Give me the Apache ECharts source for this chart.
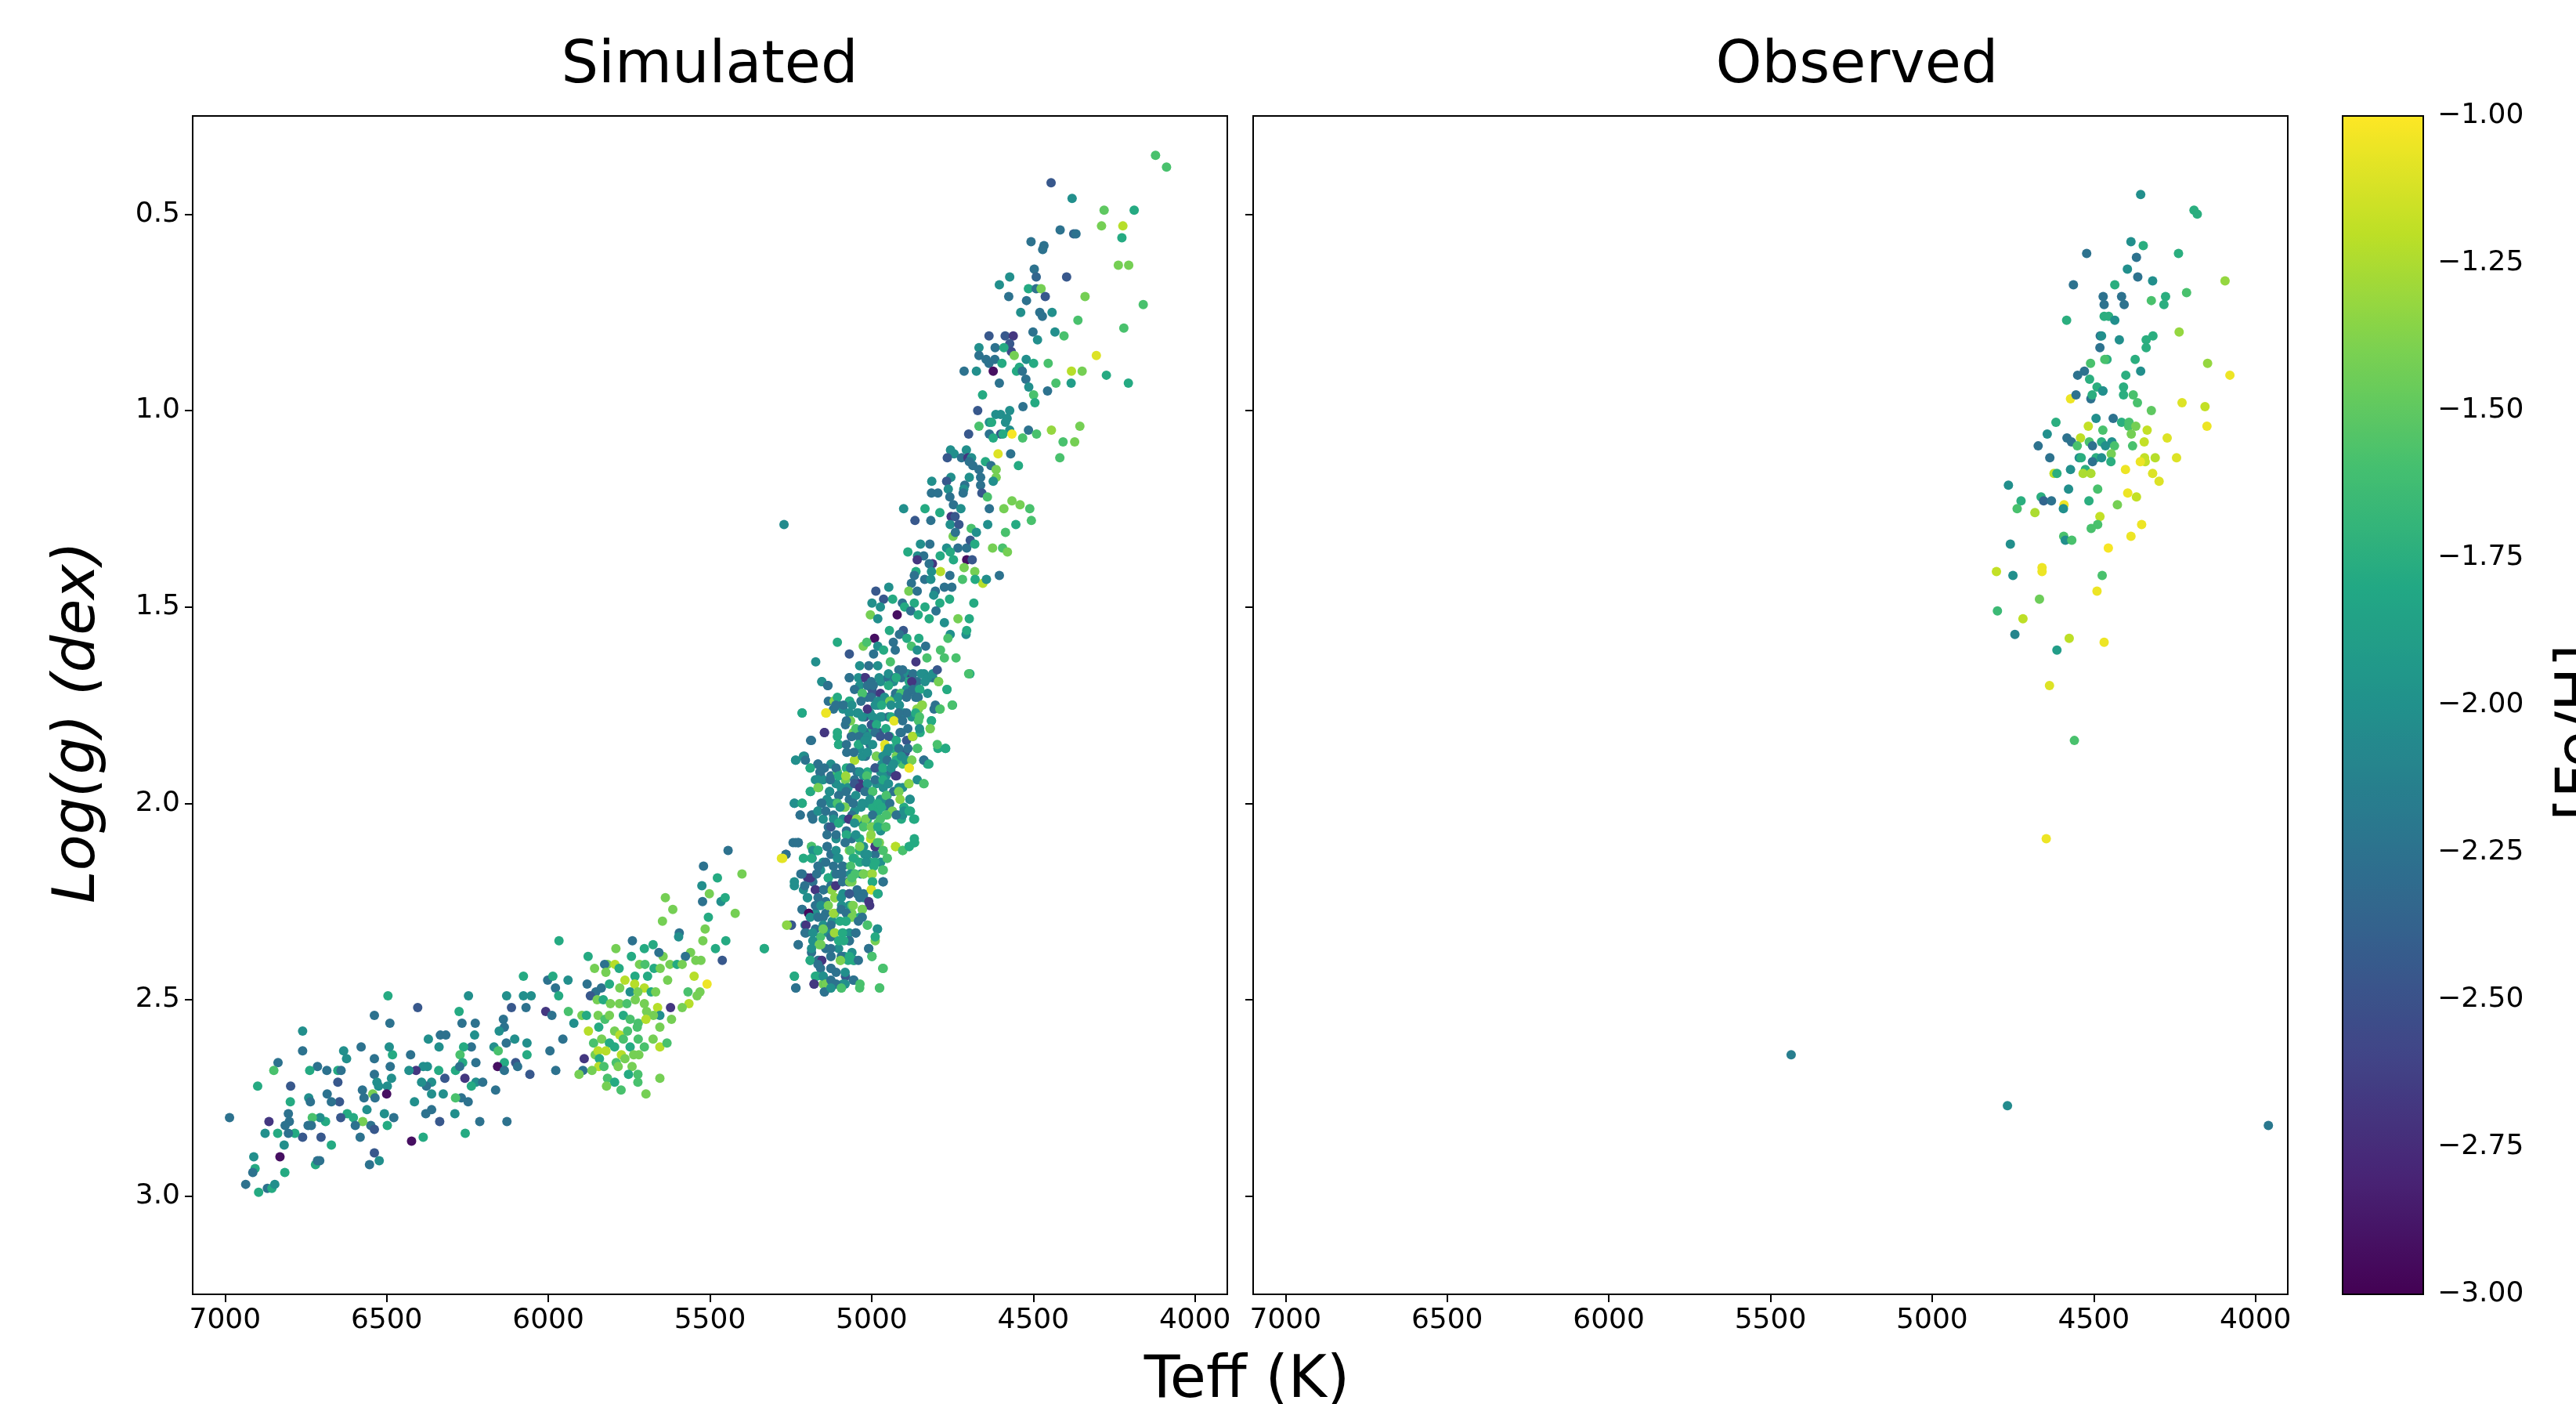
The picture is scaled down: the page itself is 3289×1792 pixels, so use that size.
<!DOCTYPE html>
<html>
<head>
<meta charset="utf-8">
<script src="https://cdn.jsdelivr.net/npm/echarts@6/dist/echarts.min.js"></script>
<style>
  html, body { margin: 0; padding: 0; background: #fff; }
  #chart { width: 3289px; height: 1792px; }
</style>
</head>
<body>
<div id="chart"></div>
<script>
// [Teff, logg, [Fe/H]]
var simUpperRGB = [
  [4122,0.35,-1.58],[4088,0.38,-1.58],[4445,0.42,-2.45],[4380,0.46,-2.02],[4281,0.49,-1.5],[4188,0.49,-1.78],
  [4289,0.53,-1.42],[4223,0.53,-1.22],[4226,0.56,-1.78],[4417,0.54,-2.25],[4375,0.55,-2.35],[4368,0.55,-2.25],
  [4507,0.57,-2.25],[4467,0.58,-2.25],[4471,0.59,-2.25],[4237,0.63,-1.42],[4205,0.63,-1.42],[4497,0.64,-2.25],
  [4491,0.66,-2.35],[4397,0.66,-2.45],[4573,0.66,-2.02],[4605,0.68,-2.02],[4515,0.69,-1.78],[4491,0.69,-2.25],
  [4476,0.69,-1.42],[4463,0.71,-2.45],[4340,0.71,-1.42],[4576,0.71,-2.25],[4521,0.72,-2.25],[4160,0.73,-1.58],
  [4539,0.75,-2.02],[4480,0.75,-2.25],[4472,0.76,-2.25],[4442,0.75,-2.02],[4362,0.77,-1.58],[4433,0.80,-2.02],
  [4405,0.81,-1.58],[4501,0.80,-2.25],[4487,0.82,-2.02],[4220,0.79,-1.58],[4637,0.81,-2.45],[4587,0.81,-2.45],
  [4562,0.81,-2.68],[4573,0.83,-2.45],[4568,0.85,-2.55],[4668,0.84,-2.02],[4618,0.84,-2.25],[4591,0.84,-1.78],
  [4559,0.86,-1.42],[4668,0.86,-2.25],[4646,0.87,-2.25],[4619,0.87,-2.25],[4637,0.88,-2.25],[4597,0.88,-1.78],
  [4522,0.87,-2.02],[4543,0.89,-1.78],[4499,0.88,-1.78],[4454,0.88,-1.58],[4714,0.90,-2.25],[4676,0.90,-2.02],
  [4624,0.90,-2.92],[4552,0.90,-1.78],[4534,0.90,-2.25],[4523,0.92,-2.25],[4514,0.94,-2.02],[4382,0.90,-1.22],
  [4349,0.90,-1.42],[4305,0.86,-1.1],[4274,0.91,-1.78],[4206,0.93,-1.78],[4383,0.93,-1.9],[4605,0.93,-2.25],
  [4499,0.96,-1.58],[4495,0.98,-1.78],[4456,0.95,-2.25],[4430,0.93,-1.58],[4657,0.96,-1.78],[4672,1.00,-2.45],
  [4532,0.99,-2.25],[4616,1.01,-2.02],[4601,1.01,-2.02],[4573,1.00,-2.02],[4581,1.02,-2.02],[4586,1.03,-2.02],
  [4636,1.03,-2.02],[4629,1.03,-1.78],[4668,1.04,-1.58],[4636,1.06,-2.25],[4601,1.06,-2.45],[4573,1.05,-2.02],
  [4624,1.07,-1.78],[4594,1.06,-1.78],[4566,1.06,-1.02],[4515,1.05,-2.25],[4533,1.07,-1.58],[4490,1.06,-1.58],
  [4444,1.05,-1.32],[4408,1.08,-1.58],[4372,1.08,-1.42],[4356,1.04,-1.42],[4700,1.06,-2.45],[4609,1.11,-1.1],
  [4570,1.11,-2.25],[4546,1.14,-1.78],[4418,1.12,-1.58],[4756,1.10,-2.02],[4745,1.11,-2.02],[4707,1.10,-2.02],
  [4766,1.12,-2.45],[4722,1.12,-2.25],[4702,1.12,-2.68],[4691,1.12,-2.02],[4698,1.13,-2.25],[4687,1.14,-2.25],
  [4668,1.15,-2.25],[4648,1.13,-1.78],[4631,1.14,-2.25],[4615,1.15,-1.42],[4615,1.17,-1.42],[4624,1.18,-2.02],
  [4814,1.18,-2.02],[4755,1.17,-2.02],[4768,1.18,-2.45],[4763,1.20,-2.02],[4698,1.17,-2.02],[4712,1.19,-2.25],
  [4663,1.17,-2.25],[4663,1.19,-2.25],[4715,1.20,-2.02],[4717,1.21,-2.25],[4659,1.21,-2.45],[4642,1.22,-1.58],
  [4815,1.21,-2.25],[4795,1.21,-2.25],[4758,1.22,-2.25],[4747,1.24,-2.25],[4901,1.25,-2.02],[4835,1.25,-1.78],
  [4789,1.26,-1.78],[4724,1.25,-2.02],[4636,1.25,-2.25],[4591,1.25,-1.42],[4566,1.23,-1.42],[4541,1.24,-1.42],
  [4511,1.25,-1.58],[4506,1.28,-1.58],[4866,1.28,-2.45],[4817,1.28,-2.25],[4754,1.27,-2.68],[4742,1.27,-2.45],
  [4757,1.29,-2.02],[4730,1.29,-2.45],[4692,1.30,-1.58],[4676,1.31,-2.02],[4641,1.29,-2.02],[4554,1.29,-1.78],
  [4586,1.31,-1.58],[4748,1.32,-1.42],[4741,1.31,-2.25],[4733,1.35,-2.25],[4706,1.35,-2.25],[4695,1.33,-2.45],
  [4681,1.34,-1.78],[4626,1.35,-1.42],[4595,1.35,-1.58],[4580,1.36,-1.42],[4849,1.34,-2.02],[4820,1.34,-2.25],
  [4768,1.35,-2.02],[4757,1.36,-1.78],[4888,1.36,-1.78],[4858,1.37,-2.02],[4839,1.37,-2.25],[4859,1.38,-2.68],
  [4812,1.39,-2.68],[4788,1.37,-1.78],[4747,1.38,-1.78],[4706,1.38,-2.92],[4689,1.38,-2.45],[4714,1.40,-1.42],
  [4681,1.41,-1.42],[4656,1.44,-1.22],[4645,1.43,-2.02],[4605,1.42,-2.25],[4787,1.41,-1.22],[4758,1.42,-2.25],
  [4822,1.39,-2.25],[4815,1.41,-2.02],[4836,1.43,-2.25],[4877,1.44,-2.25],[4863,1.41,-1.78],[4868,1.42,-2.25],
  [4817,1.43,-2.02],[4803,1.46,-2.25],[4775,1.45,-2.25],[4752,1.45,-2.25],[4719,1.43,-1.58],[4680,1.43,-1.78],
  [4987,1.46,-2.45],[4947,1.45,-2.02],[4963,1.48,-2.45],[4935,1.48,-1.78],[4885,1.46,-1.42],[4859,1.46,-2.25],
  [4808,1.47,-2.02],[4905,1.49,-2.25],[4999,1.49,-2.02],[4973,1.50,-2.02],[4898,1.50,-1.78],[4868,1.49,-1.78],
  [4835,1.50,-1.78],[4789,1.49,-1.78],[4759,1.48,-1.78],[4684,1.49,-1.78],[5004,1.52,-1.42],[4981,1.53,-2.02],
  [4921,1.52,-2.92],[4879,1.51,-2.25],[4856,1.52,-1.78],[4822,1.53,-1.78],[4801,1.51,-2.25],[4775,1.54,-2.02],
  [4733,1.53,-1.42],[4698,1.53,-1.78],[5106,1.59,-1.78],[4945,1.56,-1.78],[4902,1.56,-2.45],[4914,1.57,-2.25],
  [4991,1.58,-2.92],[4933,1.59,-2.25],[4891,1.58,-1.78],[4854,1.58,-1.78],[4833,1.60,-2.25],[4757,1.57,-2.02],
  [4764,1.58,-1.58],[4708,1.57,-2.02],[4706,1.56,-1.78],[5069,1.62,-2.45],[5026,1.60,-1.42],[5015,1.59,-1.58],
  [4981,1.60,-2.02],[4994,1.62,-2.25],[4963,1.61,-1.78],[4927,1.61,-2.25],[4877,1.60,-1.58],[4859,1.61,-2.02],
  [4787,1.61,-1.58],[5173,1.64,-2.02],[4942,1.64,-1.58],[4863,1.64,-2.68],[4829,1.63,-1.58],[4775,1.63,-1.58],
  [4739,1.63,-1.58],[5271,1.29,-2.05]
];

// lower giant branch, first reading
var simLowerRGB = [
  [5069,1.68,-2.25],[5037,1.70,-2.02],[5022,1.68,-2.68],[4999,1.71,-2.45],[4972,1.69,-2.02],[4950,1.68,-2.25],
  [4932,1.69,-2.02],[4908,1.68,-2.25],[4888,1.67,-2.02],[4876,1.68,-2.68],[4859,1.69,-2.25],[4838,1.67,-2.02],
  [4823,1.68,-2.45],[4811,1.68,-2.25],[4793,1.69,-1.42],[4696,1.67,-1.78],[4767,1.71,-1.58],
  [5154,1.69,-2.02],[5135,1.70,-2.25],[5118,1.74,-1.35],[5102,1.75,-2.25],[5069,1.74,-1.78],[5053,1.71,-2.25],
  [5029,1.72,-1.58],[5013,1.73,-2.25],[4997,1.72,-2.45],[4980,1.75,-2.25],[4964,1.74,-2.02],[4944,1.74,-2.02],
  [4928,1.73,-1.78],[4908,1.72,-1.58],[4892,1.71,-2.02],[4872,1.71,-2.25],[4851,1.71,-1.78],[4827,1.72,-2.02],
  [4807,1.76,-2.25],[4788,1.76,-1.42],[4750,1.75,-1.78],
  [5215,1.77,-2.02],[5142,1.77,-1.08],[5118,1.76,-2.25],[5089,1.76,-2.02],[5069,1.77,-2.25],[5041,1.77,-2.02],
  [5021,1.78,-2.45],[5005,1.77,-2.02],[4985,1.79,-1.78],[4968,1.78,-2.02],[4948,1.78,-2.25],[4930,1.79,-1.12],
  [4916,1.78,-2.25],[4900,1.77,-2.02],[4876,1.78,-2.02],[4855,1.76,-1.42],[4855,1.79,-1.58],[4815,1.79,-1.78],
  [4843,1.75,-1.42],
  [5186,1.84,-2.25],[5146,1.82,-2.68],[5106,1.83,-1.78],[5081,1.80,-2.25],[5063,1.83,-2.45],[5057,1.82,-1.42],
  [5037,1.82,-2.02],[5017,1.82,-2.25],[4997,1.81,-1.78],[4976,1.82,-2.45],[4958,1.86,-1.05],[4944,1.83,-1.78],
  [4924,1.84,-2.02],[4908,1.82,-2.25],[4892,1.84,-2.45],[4872,1.83,-1.42],[4850,1.82,-1.78],[4819,1.81,-1.42],
  [4795,1.86,-1.78],[4771,1.86,-1.78],
  [5235,1.89,-2.02],[5208,1.88,-2.25],[5190,1.91,-1.78],[5166,1.90,-2.25],[5158,1.92,-2.45],[5126,1.90,-2.02],
  [5102,1.85,-2.02],[5077,1.87,-2.25],[5053,1.89,-1.22],[5037,1.86,-2.02],[5019,1.88,-2.25],[5005,1.85,-2.25],
  [4985,1.88,-2.02],[4968,1.90,-2.02],[4952,1.87,-2.02],[4936,1.86,-1.78],[4924,1.88,-1.42],[4908,1.89,-2.02],
  [4896,1.87,-2.45],[4876,1.89,-1.58],[4859,1.86,-1.58],[4839,1.89,-2.25],[4827,1.90,-1.78],
  [5174,1.94,-2.02],[5158,1.93,-2.25],[5126,1.93,-2.25],[5106,1.92,-1.58],[5081,1.94,-1.42],[5069,1.91,-2.02],
  [5045,1.92,-2.25],[5025,1.93,-2.02],[5013,1.92,-1.78],[4989,1.91,-2.45],[4972,1.92,-2.02],[4956,1.93,-2.02],
  [4940,1.92,-2.25],[4926,1.93,-2.68],[4904,1.90,-1.58],[4884,1.91,-1.08],[4885,1.95,-1.42],[4859,1.94,-2.02],
  [4838,1.95,-1.58],
  [5189,1.97,-2.02],[5164,1.96,-1.58],[5150,1.94,-2.02],[5130,1.97,-2.25],[5110,1.95,-2.02],[5093,1.97,-1.78],
  [5073,1.96,-2.02],[5053,1.94,-2.25],[5037,1.95,-2.68],[5017,1.97,-2.25],[4997,1.97,-1.78],[4985,1.95,-2.02],
  [4964,1.96,-2.02],[4952,1.98,-1.78],[4932,1.97,-2.25],[4916,1.97,-1.42],[4904,1.96,-2.02],[4882,1.99,-2.02],
  [5239,2.00,-2.25],[5215,2.00,-1.78],[5221,2.03,-2.45],[5186,2.03,-2.25],[5166,2.02,-2.02],[5156,2.00,-2.25],
  [5138,1.99,-2.02],[5114,2.00,-1.78],[5087,2.01,-1.42],[5069,1.99,-2.25],[5053,2.02,-2.02],[5033,2.01,-2.02],
  [5013,2.00,-2.02],[4997,2.01,-1.78],[4980,2.02,-1.78],[4964,2.00,-2.02],[4948,2.01,-2.25],[4936,2.02,-1.78],
  [4920,2.03,-2.25],[4900,2.01,-1.78],[4880,2.02,-1.78],[4867,2.04,-1.78],
  [5182,2.03,-2.25],[5150,2.04,-2.02],[5134,2.06,-2.25],[5118,2.03,-2.25],[5103,2.05,-1.78],[5089,2.04,-2.02],
  [5071,2.04,-2.68],[5061,2.03,-2.25],[5047,2.04,-1.22],[5029,2.05,-2.02],[5013,2.04,-1.78],[4998,2.06,-2.02],
  [4980,2.05,-1.58],[4952,2.03,-1.42],[4972,2.07,-2.02],[4956,2.06,-1.78],[4908,2.04,-1.78],[4904,2.03,-2.02],
  [5243,2.10,-2.25],[5227,2.10,-2.25],[5265,2.13,-2.45],[5186,2.11,-1.58],[5170,2.12,-1.78],[5137,2.11,-2.25],
  [5110,2.09,-2.02],[5077,2.08,-1.58],[5061,2.09,-2.25],[5037,2.09,-1.78],[5025,2.11,-2.02],[5003,2.09,-1.22],
  [4989,2.11,-2.68],[4976,2.10,-1.42],[4964,2.12,-1.42],[4952,2.14,-1.58],[4926,2.11,-1.22],[4904,2.12,-1.58],
  [4884,2.11,-1.58],[4867,2.10,-1.58],
  [5279,2.14,-1.08],[5211,2.14,-1.78],[5184,2.14,-2.02],[5166,2.12,-2.25],[5150,2.15,-2.02],[5126,2.13,-2.25],
  [5106,2.14,-2.02],[5089,2.16,-2.02],[5069,2.12,-1.42],[5053,2.14,-1.58],[5037,2.12,-1.78],[5021,2.13,-2.02],
  [5005,2.15,-1.78],[4989,2.13,-2.25],[4972,2.15,-2.02],
  [5219,2.18,-2.25],[5198,2.19,-2.68],[5182,2.20,-2.25],[5239,2.21,-2.02],[5158,2.17,-2.02],[5134,2.19,-2.02],
  [5114,2.18,-1.78],[5097,2.18,-2.25],[5073,2.20,-2.45],[5061,2.20,-1.42],[5053,2.18,-2.02],[5033,2.18,-2.02],
  [5025,2.18,-1.58],[5001,2.18,-1.42],[4997,2.20,-1.78],[4964,2.20,-2.25],[4964,2.17,-1.58],
  [5211,2.22,-2.02],[5174,2.22,-2.68],[5150,2.22,-2.25],[5126,2.22,-1.42],[5114,2.24,-1.42],[5198,2.24,-2.02],
  [5089,2.23,-2.02],[5069,2.23,-2.25],[5045,2.23,-2.25],[5025,2.24,-2.02],[5006,2.26,-2.68],[5001,2.22,-1.2],
  [4980,2.23,-2.02],[5069,2.26,-2.02],
  [5194,2.28,-2.92],[5215,2.27,-2.25],[5174,2.28,-2.02],[5162,2.26,-2.25],[5142,2.28,-2.25],[5114,2.28,-1.58],
  [5093,2.26,-2.02],[5061,2.28,-1.42],[5061,2.26,-1.58],[5029,2.27,-1.58],[5037,2.29,-1.78],[5263,2.31,-1.42],
  [5248,2.31,-2.45],[5206,2.31,-2.02],[5150,2.29,-2.25],[5122,2.30,-2.02],[5081,2.30,-1.78],
  [5206,2.33,-2.25],[5174,2.32,-2.25],[5158,2.34,-1.58],[5134,2.33,-2.02],[5114,2.33,-1.42],[5089,2.33,-1.78],
  [5069,2.33,-2.02],[5049,2.33,-2.25],[5013,2.31,-1.58],[4982,2.32,-1.78],[4989,2.35,-1.42],[5227,2.36,-2.25],
  [5182,2.35,-2.02],
  [5332,2.37,-1.78],[5186,2.38,-2.25],[5162,2.36,-1.42],[5142,2.37,-2.25],[5126,2.39,-2.02],[5102,2.37,-2.02],
  [5069,2.35,-2.25],[5085,2.39,-2.02],[5061,2.38,-2.02],[5009,2.37,-2.25],[4999,2.39,-1.78],[5190,2.40,-1.78],
  [5166,2.40,-2.25],[5158,2.42,-2.25],[5126,2.42,-2.25],[5097,2.40,-1.42],[5073,2.40,-1.78],[5053,2.40,-2.02],
  [5110,2.43,-2.25],[5081,2.44,-2.45],[5150,2.44,-2.02],[5239,2.44,-1.78],[5174,2.44,-1.78],[4964,2.42,-1.58],
  [5235,2.47,-2.25],[5178,2.46,-2.68],[5150,2.46,-1.42],[5114,2.46,-2.02],[5089,2.46,-2.02],[5057,2.45,-2.25],
  [5037,2.47,-1.58],[5146,2.48,-2.25],[5126,2.47,-2.02],[5093,2.47,-1.58],[4976,2.47,-1.58],[5142,2.46,-1.78]
];

// lower giant branch, second (closer) reading
var simLowerRGB2 = [
  [5037,1.65,-2.02],[5009,1.65,-2.25],[4981,1.65,-2.02],[4948,1.67,-2.02],[4916,1.66,-2.25],[4928,1.68,-2.25],
  [4904,1.66,-2.25],[4872,1.67,-2.25],[4847,1.67,-2.02],[4827,1.68,-2.02],[4811,1.67,-2.02],[4797,1.66,-2.45],
  [4793,1.69,-1.42],[4700,1.67,-1.58],[5069,1.68,-2.25],[5041,1.68,-2.02],[5019,1.68,-2.68],[5001,1.69,-2.25],
  [4977,1.68,-2.02],[4924,1.68,-1.78],[4884,1.69,-1.78],[4876,1.69,-2.68],[5154,1.69,-2.02],[5136,1.70,-2.25],
  [5029,1.72,-1.58],[5013,1.70,-2.25],[4995,1.70,-2.25],[4973,1.72,-2.68],[4948,1.70,-1.78],[4926,1.72,-2.25],
  [4910,1.72,-1.58],[4888,1.72,-2.25],[4872,1.71,-2.25],[4852,1.71,-1.78],[4835,1.69,-2.02],[4767,1.71,-1.78],
  [5134,1.74,-2.25],[5116,1.74,-1.35],[5106,1.73,-1.78],[5068,1.74,-1.78],[5033,1.74,-2.25],[5001,1.73,-2.25],
  [4981,1.74,-2.02],[4960,1.73,-2.02],[4944,1.74,-1.42],[4918,1.73,-2.02],[4892,1.73,-2.25],[4864,1.73,-2.25],
  [4856,1.73,-2.25],[5215,1.77,-1.8],[5140,1.77,-1.05],[5111,1.75,-2.25],[5087,1.75,-2.25],[5061,1.75,-2.02],
  [5045,1.77,-2.02],[5013,1.76,-2.68],[4989,1.75,-2.02],[4969,1.75,-1.78],[4940,1.75,-2.02],[4914,1.75,-2.02],
  [4892,1.77,-2.25],[4860,1.76,-1.35],[4845,1.75,-1.35],[4864,1.77,-1.78],[4852,1.78,-1.58],[4803,1.75,-2.25],
  [4789,1.76,-1.58],[4751,1.75,-1.58],[5069,1.77,-2.02],[5029,1.78,-2.02],[4997,1.78,-2.02],[4973,1.78,-2.02],
  [4940,1.78,-1.78],[4916,1.77,-2.25],[5065,1.79,-1.42],[5078,1.79,-2.25],[5049,1.81,-1.58],[5029,1.81,-2.02],
  [5001,1.80,-2.45],[4985,1.80,-1.78],[4956,1.81,-1.78],[4931,1.79,-1.08],[4904,1.79,-2.25],[4888,1.81,-2.25],
  [4874,1.83,-1.25],[4852,1.81,-2.02],[4815,1.79,-1.78],[4819,1.81,-1.42],[5189,1.84,-2.25],[5146,1.82,-2.68],
  [5106,1.82,-1.78],[5061,1.83,-2.25],[5039,1.83,-2.25],[5013,1.83,-2.02],[4989,1.82,-2.25],[4973,1.83,-2.45],
  [4948,1.83,-2.45],[4924,1.84,-1.78],[4912,1.82,-2.25],[5102,1.85,-1.78],[5078,1.85,-2.25],[5041,1.85,-1.78],
  [5021,1.84,-2.02],[4997,1.85,-2.02],[4959,1.85,-1.08],[4948,1.86,-2.02],[4916,1.86,-2.25],[4888,1.86,-2.25],
  [4858,1.86,-1.58],[4797,1.85,-1.58],[4772,1.86,-1.78],[5235,1.89,-2.02],[5211,1.88,-2.02],[5205,1.89,-2.25],
  [5166,1.90,-2.25],[5146,1.91,-2.25],[5110,1.91,-2.25],[5078,1.91,-1.78],[5053,1.89,-1.25],[5055,1.87,-2.25],
  [5029,1.88,-2.02],[5013,1.87,-2.02],[4985,1.88,-1.42],[4965,1.88,-2.02],[4952,1.89,-2.25],[4924,1.89,-1.78],
  [4908,1.88,-2.02],[4894,1.89,-2.02],[4876,1.89,-1.42],[4838,1.89,-2.25],[4823,1.90,-1.78],[5190,1.91,-1.78],
  [5160,1.92,-2.25],[5128,1.94,-2.25],[5102,1.93,-1.78],[5080,1.93,-1.3],[5065,1.91,-2.25],[5037,1.92,-2.02],
  [5015,1.93,-1.58],[4989,1.91,-2.45],[4965,1.91,-1.78],[4940,1.91,-2.02],[4923,1.93,-2.68],[4884,1.91,-1.05],
  [4932,1.90,-2.02],[5166,1.94,-2.02],[5130,1.97,-2.02],[5094,1.96,-2.02],[5053,1.95,-2.45],[5037,1.96,-2.68],
  [5013,1.95,-2.02],[4989,1.94,-2.25],[4965,1.94,-1.78],[4948,1.95,-2.02],[4916,1.96,-2.02],[4885,1.95,-1.35],
  [4839,1.95,-1.58],[5190,1.97,-1.78],[5166,1.96,-1.42],[5102,1.98,-2.25],[5079,1.97,-2.25],[5049,1.98,-2.02],
  [5021,1.97,-2.25],[4997,1.97,-1.58],[4973,1.99,-2.02],[4955,1.98,-1.58],[4916,1.97,-1.42],[4912,1.99,-1.35],
  [4881,1.99,-2.02],[5239,2.00,-2.02],[5215,2.00,-1.78],[5154,2.00,-2.25],[5126,2.00,-2.02],[5106,2.00,-1.58],
  [5082,2.01,-1.42],[5057,2.00,-2.25],[5029,2.00,-2.02],[5005,1.99,-2.02],[4981,2.00,-1.78],[4969,2.01,-1.78],
  [4944,2.00,-2.25],[4936,2.02,-1.42],[5221,2.03,-2.25],[5182,2.04,-2.25],[5166,2.02,-2.02],[5142,2.02,-2.25],
  [5118,2.04,-2.02],[5098,2.01,-2.02],[5069,2.04,-2.68],[5047,2.04,-1.35],[5019,2.04,-1.42],[4997,2.03,-2.25],
  [4973,2.04,-1.58],[4955,2.03,-1.58],[4924,2.03,-2.25],[4900,2.02,-2.02],[4884,2.02,-1.78],[4870,2.04,-1.78],
  [5126,2.06,-2.45],[5102,2.05,-1.78],[5078,2.07,-2.25],[5053,2.05,-2.02],[5025,2.06,-1.58],[5001,2.06,-1.42],
  [4981,2.06,-1.78],[4956,2.06,-1.58],[5138,2.08,-2.25],[5110,2.08,-2.25],[5078,2.08,-1.78],[5049,2.08,-2.02],
  [5002,2.08,-1.35],[4868,2.09,-1.78],
  [5235,2.10,-2.25],[5227,2.10,-2.25],[5265,2.13,-2.25],[5275,2.14,-1.08],[5186,2.11,-1.58],[5182,2.12,-2.02],
  [5166,2.12,-1.78],[5138,2.11,-2.25],[5110,2.12,-2.02],[5082,2.10,-2.25],[5065,2.12,-1.58],[5037,2.11,-1.42],
  [5013,2.13,-2.02],[4989,2.11,-2.68],[4982,2.10,-1.58],[4965,2.12,-1.58],[4952,2.14,-1.58],[4926,2.11,-1.22],
  [4904,2.12,-1.58],[4884,2.11,-1.78],[4868,2.10,-1.78],[5102,2.14,-2.02],[5057,2.14,-1.78],[5186,2.14,-1.78],
  [5166,2.16,-2.25],[5142,2.15,-2.25],[5118,2.16,-2.25],[5090,2.16,-2.25],[5065,2.16,-1.58],[5037,2.15,-1.78],
  [5017,2.15,-2.02],[4989,2.15,-1.78],[4966,2.17,-1.58],[4993,2.16,-1.78],[5215,2.18,-2.25],[5189,2.19,-2.68],
  [5170,2.18,-2.25],[5134,2.19,-1.78],[5110,2.18,-2.25],[5090,2.18,-2.25],[5065,2.18,-2.02],[5051,2.18,-1.58],
  [5025,2.18,-1.42],[4998,2.18,-1.3],[4998,2.20,-1.78],[4965,2.20,-2.25],[5239,2.20,-2.02],[5207,2.21,-2.25],
  [5174,2.22,-2.68],[5148,2.22,-2.25],[5126,2.21,-2.25],[5122,2.22,-1.35],[5111,2.21,-2.68],[5090,2.20,-2.25],
  [5068,2.20,-1.42],[5061,2.19,-1.58],[5045,2.22,-2.25],[5025,2.23,-2.25],[5001,2.22,-1.12],[4982,2.23,-1.78],
  [5199,2.24,-2.02],[5166,2.24,-2.25],[5142,2.25,-2.25],[5114,2.24,-1.35],[5094,2.24,-2.02],[5069,2.23,-2.45],
  [5037,2.24,-2.25],[5215,2.27,-2.25],[5195,2.28,-2.95],[5174,2.26,-2.25],[5157,2.26,-2.02],[5134,2.26,-1.42],
  [5118,2.28,-1.3],[5094,2.27,-2.25],[5078,2.28,-2.25],[5057,2.26,-1.4],[5029,2.27,-1.42],[5009,2.25,-2.68],
  [5029,2.29,-2.25],[5061,2.29,-1.42],[5249,2.31,-2.45],[5261,2.31,-1.35],[5203,2.31,-2.68],[5190,2.29,-2.02],
  [5166,2.29,-2.25],[5150,2.31,-2.02],[5126,2.31,-2.25],[5098,2.30,-1.78],[5079,2.30,-1.78],[5041,2.30,-2.25],
  [5013,2.31,-1.58],[4982,2.32,-2.02],[5203,2.33,-2.25],[5182,2.33,-2.02],[5150,2.32,-1.45],[5126,2.34,-2.25],
  [5115,2.33,-1.3],[5090,2.33,-1.78],[5069,2.35,-2.25],[5049,2.33,-2.25],[5227,2.36,-2.25],[5186,2.37,-2.02],
  [5157,2.36,-1.45],[5126,2.37,-2.25],[5102,2.35,-1.78],[5086,2.35,-1.78],[5332,2.37,-1.78],[5009,2.37,-2.25],
  [4989,2.34,-1.78],[5190,2.40,-1.78],[5162,2.40,-2.25],[5126,2.39,-2.25],[5154,2.40,-2.68],[5094,2.39,-2.25],
  [5096,2.40,-1.4],[5069,2.39,-1.78],[5057,2.40,-1.78],[5041,2.40,-2.25],[4999,2.39,-1.58],[5166,2.41,-2.25],
  [5126,2.42,-2.25],[5082,2.43,-2.02],[5170,2.44,-1.78],[5150,2.44,-2.02],[4966,2.42,-1.58],[5239,2.44,-1.78],
  [5234,2.47,-2.25],[5178,2.46,-2.68],[5142,2.46,-1.42],[5126,2.45,-2.25],[5110,2.46,-2.25],[5082,2.46,-2.02],
  [5055,2.45,-2.25],[5036,2.46,-1.58],[5146,2.48,-2.25],[5126,2.47,-2.02],[5094,2.47,-1.58],[4975,2.47,-1.58]
];

var simRedClump = [
  [5444,2.12,-2.25],[5520,2.16,-2.25],[5401,2.18,-1.42],[5477,2.19,-1.78],[5525,2.21,-2.02],[5502,2.23,-1.42],
  [5523,2.25,-2.25],[5466,2.25,-2.02],[5453,2.24,-1.78],[5638,2.24,-1.42],[5615,2.27,-1.42],[5422,2.28,-1.42],
  [5505,2.29,-1.78],[5647,2.30,-1.42],[5515,2.32,-1.42],[5595,2.33,-2.25],[5597,2.34,-2.02],[5522,2.35,-1.42],
  [5451,2.35,-1.78],[5483,2.37,-1.78],[5560,2.38,-1.42],[5576,2.39,-2.25],[5462,2.40,-2.45],[5740,2.35,-2.25],
  [5967,2.35,-1.78],[5877,2.39,-1.78],[5791,2.37,-1.42],[5703,2.37,-1.78],[5676,2.36,-1.78],[5645,2.39,-1.42],
  [5658,2.38,-2.25],[5743,2.39,-1.78],[5817,2.41,-1.42],[5794,2.41,-1.22],[5826,2.41,-2.25],[5718,2.41,-1.42],
  [5701,2.41,-1.58],[5624,2.41,-1.42],[5602,2.41,-1.78],[5586,2.41,-1.42],[5544,2.40,-1.42],[5528,2.40,-1.42],
  [5857,2.42,-1.42],[5822,2.43,-1.42],[5781,2.42,-1.78],[5673,2.42,-1.78],[5654,2.42,-1.42],[5732,2.44,-1.78],
  [5693,2.44,-1.78],[5763,2.45,-1.22],[5733,2.46,-1.22],[5703,2.47,-1.22],[5631,2.45,-1.42],[5549,2.44,-1.22],
  [5509,2.46,-1.05],[5568,2.48,-1.58],[5531,2.48,-1.42],[5540,2.49,-1.42],[5565,2.51,-1.22],[5586,2.52,-1.42],
  [5880,2.46,-2.25],[5853,2.48,-2.25],[5836,2.47,-2.25],[5811,2.46,-1.78],[5779,2.47,-1.42],[5747,2.48,-2.02],
  [5723,2.48,-1.42],[5682,2.48,-1.78],[5668,2.48,-1.42],[5870,2.49,-2.45],[5849,2.50,-1.42],[5830,2.50,-1.78],
  [5808,2.51,-1.42],[5780,2.51,-1.42],[5757,2.51,-1.58],[5731,2.50,-1.42],[5703,2.51,-1.42],[5662,2.52,-1.22],
  [5622,2.52,-2.68],[5655,2.54,-2.02],[5675,2.54,-1.42],[5696,2.53,-1.42],[5896,2.54,-1.42],[5882,2.54,-1.78],
  [5846,2.54,-1.42],[5825,2.55,-1.58],[5811,2.54,-1.42],[5768,2.54,-1.78],[5747,2.55,-1.58],[5722,2.56,-1.58],
  [5698,2.55,-1.22],[5619,2.55,-1.42],[5876,2.58,-1.22],[5844,2.57,-1.78],[5795,2.58,-1.42],[5779,2.59,-1.22],
  [5755,2.58,-1.58],[5725,2.57,-1.58],[5655,2.57,-1.42],[5860,2.61,-1.58],[5835,2.60,-1.42],[5811,2.61,-1.78],
  [5795,2.62,-1.78],[5768,2.60,-1.58],[5747,2.62,-1.78],[5722,2.60,-1.58],[5703,2.62,-1.58],[5676,2.60,-1.42],
  [5655,2.62,-1.22],[5633,2.61,-1.58],[5855,2.64,-1.42],[5846,2.63,-1.22],[5822,2.63,-1.22],[5774,2.64,-1.22],
  [5763,2.65,-1.42],[5736,2.64,-1.42],[5720,2.64,-1.42],[5842,2.65,-1.78],[5844,2.67,-1.22],[5828,2.67,-1.58],
  [5790,2.66,-1.58],[5784,2.67,-1.42],[5741,2.67,-1.42],[5889,2.65,-2.68],[5893,2.68,-2.25],[5905,2.69,-1.42],
  [5865,2.68,-1.42],[5817,2.70,-1.58],[5795,2.71,-1.78],[5752,2.69,-1.78],[5723,2.69,-1.58],[5723,2.71,-1.58],
  [5820,2.72,-1.42],[5775,2.73,-1.58],[5655,2.70,-1.42],[5698,2.74,-1.42]
];

var simHorizBranch = [
  [6077,2.44,-1.78],[6002,2.45,-2.25],[5986,2.44,-1.78],[5939,2.45,-2.02],[5978,2.47,-2.25],[5968,2.49,-1.78],
  [6008,2.53,-2.68],[5989,2.54,-2.25],[5938,2.53,-1.58],[5921,2.56,-2.02],[5955,2.60,-2.25],[5995,2.63,-2.25],
  [5977,2.68,-2.25],[6069,2.52,-2.25],[6114,2.52,-2.45],[6129,2.49,-2.02],[6077,2.49,-2.02],[6053,2.49,-2.02],
  [6247,2.49,-2.02],[6276,2.53,-1.78],[6496,2.49,-1.78],[6404,2.52,-2.45],[6538,2.54,-2.25],[6490,2.56,-2.25],
  [6267,2.56,-2.25],[6226,2.56,-2.25],[6228,2.59,-2.02],[6139,2.55,-2.25],[6136,2.57,-2.25],[6152,2.58,-2.02],
  [6168,2.62,-2.02],[6155,2.63,-1.58],[6130,2.61,-2.25],[6066,2.61,-2.02],[6066,2.64,-1.78],[6104,2.60,-2.02],
  [6136,2.66,-1.78],[6157,2.67,-2.92],[6136,2.68,-2.25],[6101,2.66,-2.45],[6095,2.67,-2.25],[6057,2.69,-2.45],
  [6163,2.73,-2.25],[6128,2.81,-2.25],[6212,2.81,-2.25],[6224,2.66,-2.25],[6238,2.62,-2.25],[6262,2.62,-1.78],
  [6273,2.64,-1.58],[6265,2.66,-1.78],[6287,2.68,-1.78],[6274,2.67,-2.25],[6258,2.70,-2.68],[6224,2.71,-2.02],
  [6203,2.71,-2.25],[6238,2.72,-1.78],[6269,2.75,-2.25],[6287,2.75,-1.58],[6248,2.76,-2.25],[6289,2.79,-2.02],
  [6257,2.84,-1.78],[6336,2.81,-2.45],[6325,2.74,-2.02],[6320,2.70,-2.45],[6361,2.71,-2.02],[6361,2.74,-2.02],
  [6377,2.72,-2.25],[6392,2.71,-2.02],[6339,2.68,-1.78],[6374,2.67,-2.02],[6387,2.67,-2.02],[6409,2.68,-2.68],
  [6431,2.68,-2.02],[6426,2.64,-2.25],[6371,2.60,-2.02],[6338,2.62,-2.02],[6334,2.59,-2.25],[6317,2.59,-2.25],
  [6489,2.67,-2.25],[6482,2.64,-1.78],[6492,2.62,-2.02],[6538,2.65,-2.25],[6538,2.69,-2.25],[6530,2.71,-2.02],
  [6525,2.72,-2.02],[6498,2.72,-2.02],[6485,2.70,-2.02],[6543,2.74,-1.42],[6500,2.74,-2.92],[6536,2.75,-2.25],
  [6507,2.79,-2.02],[6478,2.80,-2.25],[6549,2.82,-2.25],[6538,2.83,-2.45],[6498,2.82,-1.78],[6582,2.85,-2.25],
  [6538,2.89,-2.45],[6553,2.92,-2.25],[6523,2.91,-2.02],[6423,2.86,-2.92],[6387,2.85,-1.78],[6379,2.79,-2.25],
  [6361,2.78,-2.25],[6414,2.76,-2.02],[6575,2.73,-2.25],[6570,2.75,-2.25],[6561,2.78,-2.02],[6574,2.81,-1.42],
  [6603,2.80,-1.78],[6597,2.82,-2.25],[6622,2.79,-1.78],[6642,2.80,-2.45],[6646,2.76,-2.45],[6671,2.76,-2.25],
  [6684,2.74,-2.25],[6651,2.71,-2.45],[6651,2.68,-1.78],[6641,2.68,-2.25],[6633,2.63,-2.02],[6624,2.65,-2.02],
  [6579,2.62,-2.25],[6714,2.67,-2.25],[6685,2.68,-2.25],[6738,2.68,-1.78],[6671,2.87,-1.78],[6703,2.85,-2.45],
  [6689,2.81,-1.78],[6706,2.80,-2.02],[6730,2.80,-1.58],[6743,2.82,-2.25],[6733,2.82,-2.25],[6741,2.75,-2.02],
  [6736,2.76,-2.25],[6760,2.85,-2.45],[6784,2.84,-1.78],[6801,2.81,-2.25],[6804,2.79,-2.25],[6798,2.76,-1.78],
  [6797,2.72,-2.45],[6814,2.82,-2.25],[6804,2.84,-2.25],[6837,2.84,-1.78],[6817,2.87,-2.02],[6830,2.90,-2.92],
  [6864,2.81,-2.68],[6876,2.84,-2.02],[6836,2.66,-2.25],[6849,2.68,-1.58],[6760,2.63,-2.25],[6760,2.58,-2.02],
  [6899,2.72,-1.78],[6986,2.80,-2.25],[6911,2.90,-2.02],[6907,2.93,-1.78],[6914,2.94,-2.25],[6936,2.97,-2.25],
  [6896,2.99,-1.78],[6869,2.98,-2.25],[6855,2.98,-1.78],[6846,2.97,-2.02],[6815,2.94,-1.78],[6720,2.92,-1.78],
  [6707,2.91,-2.25],[6714,2.91,-2.25]
];

var obsPoints = [
  [4355,0.45,-2.02],[4190,0.49,-1.75],[4180,0.50,-1.75],[4385,0.57,-2.02],[4347,0.58,-1.75],[4522,0.60,-2.25],
  [4368,0.61,-2.25],[4238,0.60,-1.75],[4396,0.64,-2.02],[4364,0.66,-2.25],[4318,0.67,-2.02],[4094,0.67,-1.32],
  [4563,0.68,-2.25],[4435,0.68,-1.75],[4414,0.71,-2.25],[4471,0.71,-2.25],[4468,0.73,-2.25],[4406,0.73,-2.25],
  [4322,0.72,-1.58],[4278,0.71,-1.75],[4283,0.73,-1.75],[4213,0.70,-1.58],[4584,0.77,-1.75],[4468,0.76,-1.75],
  [4454,0.76,-1.75],[4435,0.77,-2.02],[4236,0.80,-1.32],[4480,0.81,-2.25],[4476,0.81,-2.02],[4421,0.82,-2.02],
  [4481,0.84,-2.25],[4317,0.81,-1.75],[4338,0.82,-1.75],[4338,0.84,-1.75],[4459,0.87,-1.75],[4466,0.87,-1.58],
  [4510,0.88,-1.58],[4372,0.87,-1.75],[4355,0.90,-2.02],[4148,0.88,-1.32],[4079,0.91,-1.05],[4529,0.90,-2.25],
  [4550,0.91,-2.25],[4513,0.92,-1.75],[4401,0.91,-1.75],[4490,0.94,-1.75],[4472,0.95,-2.02],[4408,0.94,-1.75],
  [4572,0.97,-1.05],[4555,0.96,-2.25],[4509,0.97,-2.25],[4505,0.96,-1.75],[4472,0.95,-2.02],[4408,0.96,-1.75],
  [4378,0.96,-1.58],[4365,0.98,-1.58],[4322,1.00,-1.5],[4227,0.98,-1.1],[4156,0.99,-1.18],[4150,1.04,-1.05],
  [4617,1.03,-1.75],[4644,1.06,-2.02],[4493,1.02,-2.02],[4440,1.02,-2.25],[4414,1.03,-1.75],[4391,1.03,-1.58],
  [4392,1.04,-1.58],[4370,1.04,-1.42],[4335,1.05,-1.18],[4517,1.04,-1.18],[4472,1.05,-1.58],[4583,1.07,-2.25],
  [4569,1.08,-2.25],[4541,1.07,-1.2],[4551,1.09,-1.58],[4514,1.08,-1.58],[4504,1.09,-2.25],[4476,1.08,-1.75],
  [4464,1.09,-2.02],[4444,1.08,-2.02],[4436,1.09,-1.58],[4384,1.06,-1.42],[4380,1.09,-1.58],[4344,1.08,-1.18],
  [4273,1.07,-1.1],[4672,1.09,-2.25],[4636,1.12,-2.25],[4545,1.12,-2.02],[4539,1.12,-1.75],[4493,1.12,-1.75],
  [4476,1.12,-2.02],[4446,1.11,-1.42],[4447,1.13,-1.75],[4343,1.12,-1.18],[4341,1.13,-1.18],[4356,1.13,-1.05],
  [4310,1.12,-1.22],[4244,1.12,-1.1],[4504,1.13,-2.25],[4572,1.15,-2.02],[4526,1.15,-1.75],[4623,1.16,-1.2],
  [4614,1.16,-1.75],[4533,1.16,-1.25],[4509,1.16,-1.25],[4402,1.15,-1.05],[4318,1.16,-1.1],[4298,1.18,-1.1],
  [4764,1.19,-2.02],[4578,1.20,-2.02],[4488,1.20,-1.58],[4725,1.23,-1.75],[4663,1.22,-1.75],[4655,1.23,-2.35],
  [4631,1.23,-2.25],[4592,1.24,-1.05],[4594,1.25,-2.02],[4515,1.23,-1.75],[4395,1.21,-1.05],[4368,1.22,-1.18],
  [4427,1.24,-1.42],[4737,1.25,-1.58],[4682,1.26,-1.25],[4481,1.27,-1.18],[4488,1.29,-1.58],[4352,1.29,-1.05],
  [4508,1.30,-1.58],[4385,1.32,-1.05],[4593,1.32,-1.58],[4588,1.33,-2.02],[4568,1.33,-1.58],[4758,1.34,-2.02],
  [4455,1.35,-1.02],[4660,1.40,-1.05],[4660,1.41,-1.05],[4801,1.41,-1.18],[4750,1.42,-2.02],[4474,1.42,-1.58],
  [4490,1.46,-1.05],[4668,1.48,-1.45],[4798,1.51,-1.65],[4719,1.53,-1.2],[4744,1.57,-2.1],[4576,1.58,-1.2],
  [4468,1.59,-1.05],[4614,1.61,-1.9],[4637,1.70,-1.1],[4560,1.84,-1.58],[4647,2.09,-1.05],
  [5436,2.64,-2.15],[4767,2.77,-2.05],[3960,2.82,-2.2]
];

var xTicks = [4000, 4500, 5000, 5500, 6000, 6500, 7000];
var yTicks = [0.5, 1.0, 1.5, 2.0, 2.5, 3.0];
var viridis = ['#440154','#482475','#414487','#355f8d','#2a788e','#21918c','#22a884','#44bf70','#7ad151','#bddf26','#fde725'];

var simPoints = simUpperRGB.concat(simLowerRGB, simLowerRGB2, simRedClump, simHorizBranch);

var chart = echarts.init(document.getElementById('chart'));
var tickFont = 'DejaVu Sans';
var bigFont = '75px "DejaVu Sans"';

function xAxisFor(i) {
  return {
    gridIndex: i, type: 'value', min: 3900, max: 7100, inverse: true,
    axisLine: { show: false },
    axisTick: { show: true, length: 10, lineStyle: { color: '#000', width: 2 }, customValues: xTicks },
    axisLabel: { customValues: xTicks, margin: 16, color: '#000', fontSize: 36, fontFamily: tickFont,
      formatter: function (v) { return String(v); } },
    splitLine: { show: false }
  };
}
function yAxisFor(i, showLabel) {
  return {
    gridIndex: i, type: 'value', min: 0.25, max: 3.25, inverse: true,
    axisLine: { show: false },
    axisTick: { show: true, length: 10, lineStyle: { color: '#000', width: 2 }, customValues: yTicks },
    axisLabel: { show: showLabel, customValues: yTicks, margin: 16, color: '#000', fontSize: 36, fontFamily: tickFont,
      formatter: function (v) { return v.toFixed(1); } },
    splitLine: { show: false }
  };
}

var option = {
  animation: false,
  backgroundColor: '#fff',
  grid: [
    { left: 246, top: 148, width: 1321, height: 1504, show: true, borderColor: '#000', borderWidth: 2, backgroundColor: 'transparent' },
    { left: 1600, top: 148, width: 1321, height: 1504, show: true, borderColor: '#000', borderWidth: 2, backgroundColor: 'transparent' },
    { left: 2991, top: 148, width: 103, height: 1504, show: true, borderColor: '#000', borderWidth: 2, backgroundColor: 'transparent', z: 10 }
  ],
  xAxis: [
    xAxisFor(0),
    xAxisFor(1),
    { gridIndex: 2, type: 'value', min: 0, max: 1, show: false }
  ],
  yAxis: [
    yAxisFor(0, true),
    yAxisFor(1, false),
    {
      gridIndex: 2, type: 'value', min: -3, max: -1, interval: 0.25, position: 'right',
      axisLine: { show: false },
      axisTick: { show: true, length: 8, lineStyle: { color: '#000', width: 2 } },
      axisLabel: { margin: 18, color: '#000', fontSize: 36, fontFamily: tickFont,
        formatter: function (v) { return (v < 0 ? '\u2212' : '') + Math.abs(v).toFixed(2); } },
      splitLine: { show: false }
    }
  ],
  visualMap: {
    type: 'continuous', min: -3, max: -1, dimension: 2, seriesIndex: [0, 1],
    inRange: { color: viridis },
    show: true, calculable: false, orient: 'vertical', text: null,
    left: 2991, top: 148, itemWidth: 103, itemHeight: 1504, padding: 0, hoverLink: false
  },
  series: [
    { type: 'scatter', xAxisIndex: 0, yAxisIndex: 0, data: simPoints, symbolSize: 12, itemStyle: { opacity: 1 } },
    { type: 'scatter', xAxisIndex: 1, yAxisIndex: 1, data: obsPoints, symbolSize: 12, itemStyle: { opacity: 1 } }
  ],
  graphic: [
    { type: 'text', x: 906, y: 86, style: { text: 'Simulated', font: bigFont, fill: '#000', align: 'center', verticalAlign: 'middle' } },
    { type: 'text', x: 2371, y: 86, style: { text: 'Observed', font: bigFont, fill: '#000', align: 'center', verticalAlign: 'middle' } },
    { type: 'text', x: 1592, y: 1764, style: { text: 'Teff (K)', font: bigFont, fill: '#000', align: 'center', verticalAlign: 'middle' } },
    { type: 'text', x: 101, y: 922, rotation: Math.PI / 2, style: { text: 'Log(g) (dex)', font: 'italic 75px "DejaVu Sans"', fill: '#000', align: 'center', verticalAlign: 'middle' } },
    { type: 'text', x: 3297, y: 935, rotation: Math.PI / 2, style: { text: '[Fe/H]', font: bigFont, fill: '#000', align: 'center', verticalAlign: 'middle' } }
  ]
};

chart.setOption(option);
</script>
</body>
</html>
